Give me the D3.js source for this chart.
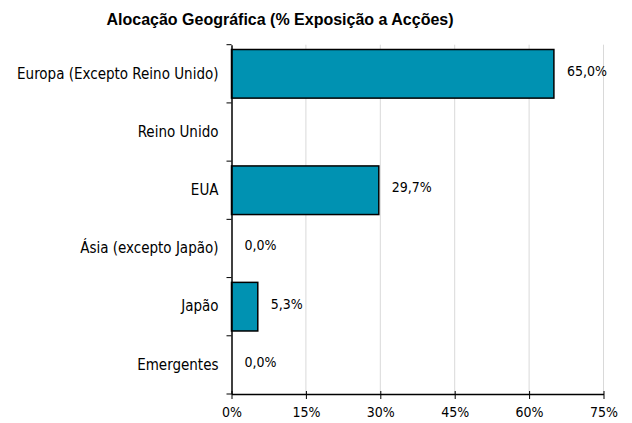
<!DOCTYPE html>
<html>
<head>
<meta charset="utf-8">
<script src="https://cdn.jsdelivr.net/npm/d3@7"></script>
<style>
  body { margin: 0; background: #fff; }
  .lbl { font-family: "DejaVu Sans Condensed", "DejaVu Sans", sans-serif; font-size: 14px; fill: #000; }
  .cat { font-size: 15px; }
</style>
</head>
<body>
<svg id="chart" width="632" height="423"></svg>
<script>
const categories = ["Europa (Excepto Reino Unido)", "Reino Unido", "EUA", "Ásia (excepto Japão)", "Japão", "Emergentes"];
const values = [65.0, null, 29.7, 0.0, 5.3, 0.0];
const xTicks = [0, 15, 30, 45, 60, 75];
const title = "Alocação Geográfica (% Exposição a Acções)";

const width = 632, height = 423;
const margin = {top: 44.7, right: 28.5, bottom: 29, left: 231.5};

const svg = d3.select("#chart");

const x = d3.scaleLinear()
    .domain([0, 75])
    .range([margin.left, width - margin.right]);
const y = d3.scaleBand()
    .domain(categories)
    .range([margin.top, height - margin.bottom])
    .paddingInner(0.165)
    .paddingOuter(0.0825);

// title
svg.append("text")
    .attr("x", 280)
    .attr("y", 25)
    .attr("text-anchor", "middle")
    .style("font-family", "'Liberation Sans', Arial, sans-serif")
    .style("font-weight", "bold")
    .style("font-size", "16px")
    .text(title);

// gridlines
svg.append("g")
    .selectAll("line")
    .data(xTicks.slice(1))
    .join("line")
    .attr("x1", d => x(d)).attr("x2", d => x(d))
    .attr("y1", margin.top).attr("y2", height - margin.bottom)
    .attr("stroke", "#d9d9d9")
    .attr("stroke-width", 1);

// bars
svg.append("g")
    .selectAll("rect")
    .data(categories.map((c, i) => ({c, v: values[i]})).filter(d => d.v))
    .join("rect")
    .attr("x", x(0))
    .attr("y", d => y(d.c))
    .attr("width", d => x(d.v) - x(0))
    .attr("height", y.bandwidth())
    .attr("fill", "#0092b2")
    .attr("stroke", "#000")
    .attr("stroke-width", 1.5);

// value labels
svg.append("g")
    .selectAll("text")
    .data(categories.map((c, i) => ({c, v: values[i]})).filter(d => d.v !== null))
    .join("text")
    .attr("class", "lbl")
    .attr("x", d => x(d.v) + 13)
    .attr("y", d => y(d.c) + y.bandwidth() / 2 - 3)
    .attr("dy", "0.35em")
    .text(d => d3.format(".1f")(d.v).replace(".", ",") + "%");

// x axis
const xAxis = svg.append("g")
    .attr("transform", `translate(0,${height - margin.bottom})`)
    .call(d3.axisBottom(x).tickValues(xTicks).tickSize(5).tickSizeOuter(0).tickFormat(d => d + "%"));
xAxis.select(".domain").attr("stroke", "#000").attr("stroke-width", 1.5);
xAxis.selectAll(".tick line").attr("y1", -3).attr("y2", 5);
xAxis.selectAll("text").attr("class", "lbl").attr("font-family", null).attr("font-size", null).attr("y", 10).attr("dy", "0.95em");

// y axis
const yAxis = svg.append("g")
    .attr("transform", `translate(${margin.left},0)`)
    .call(d3.axisLeft(y).tickSize(0).tickPadding(13));
yAxis.select(".domain").attr("stroke", "#000").attr("stroke-width", 1.5);
yAxis.selectAll("text").attr("class", "lbl cat").attr("font-family", null).attr("font-size", null);

// band separators on y axis
const bounds = d3.range(categories.length + 1).map(i => margin.top + i * (height - margin.bottom - margin.top) / categories.length);
svg.append("g")
    .selectAll("line")
    .data(bounds)
    .join("line")
    .attr("x1", margin.left - 5).attr("x2", margin.left)
    .attr("y1", d => d).attr("y2", d => d)
    .attr("stroke", "#000");
</script>
</body>
</html>
